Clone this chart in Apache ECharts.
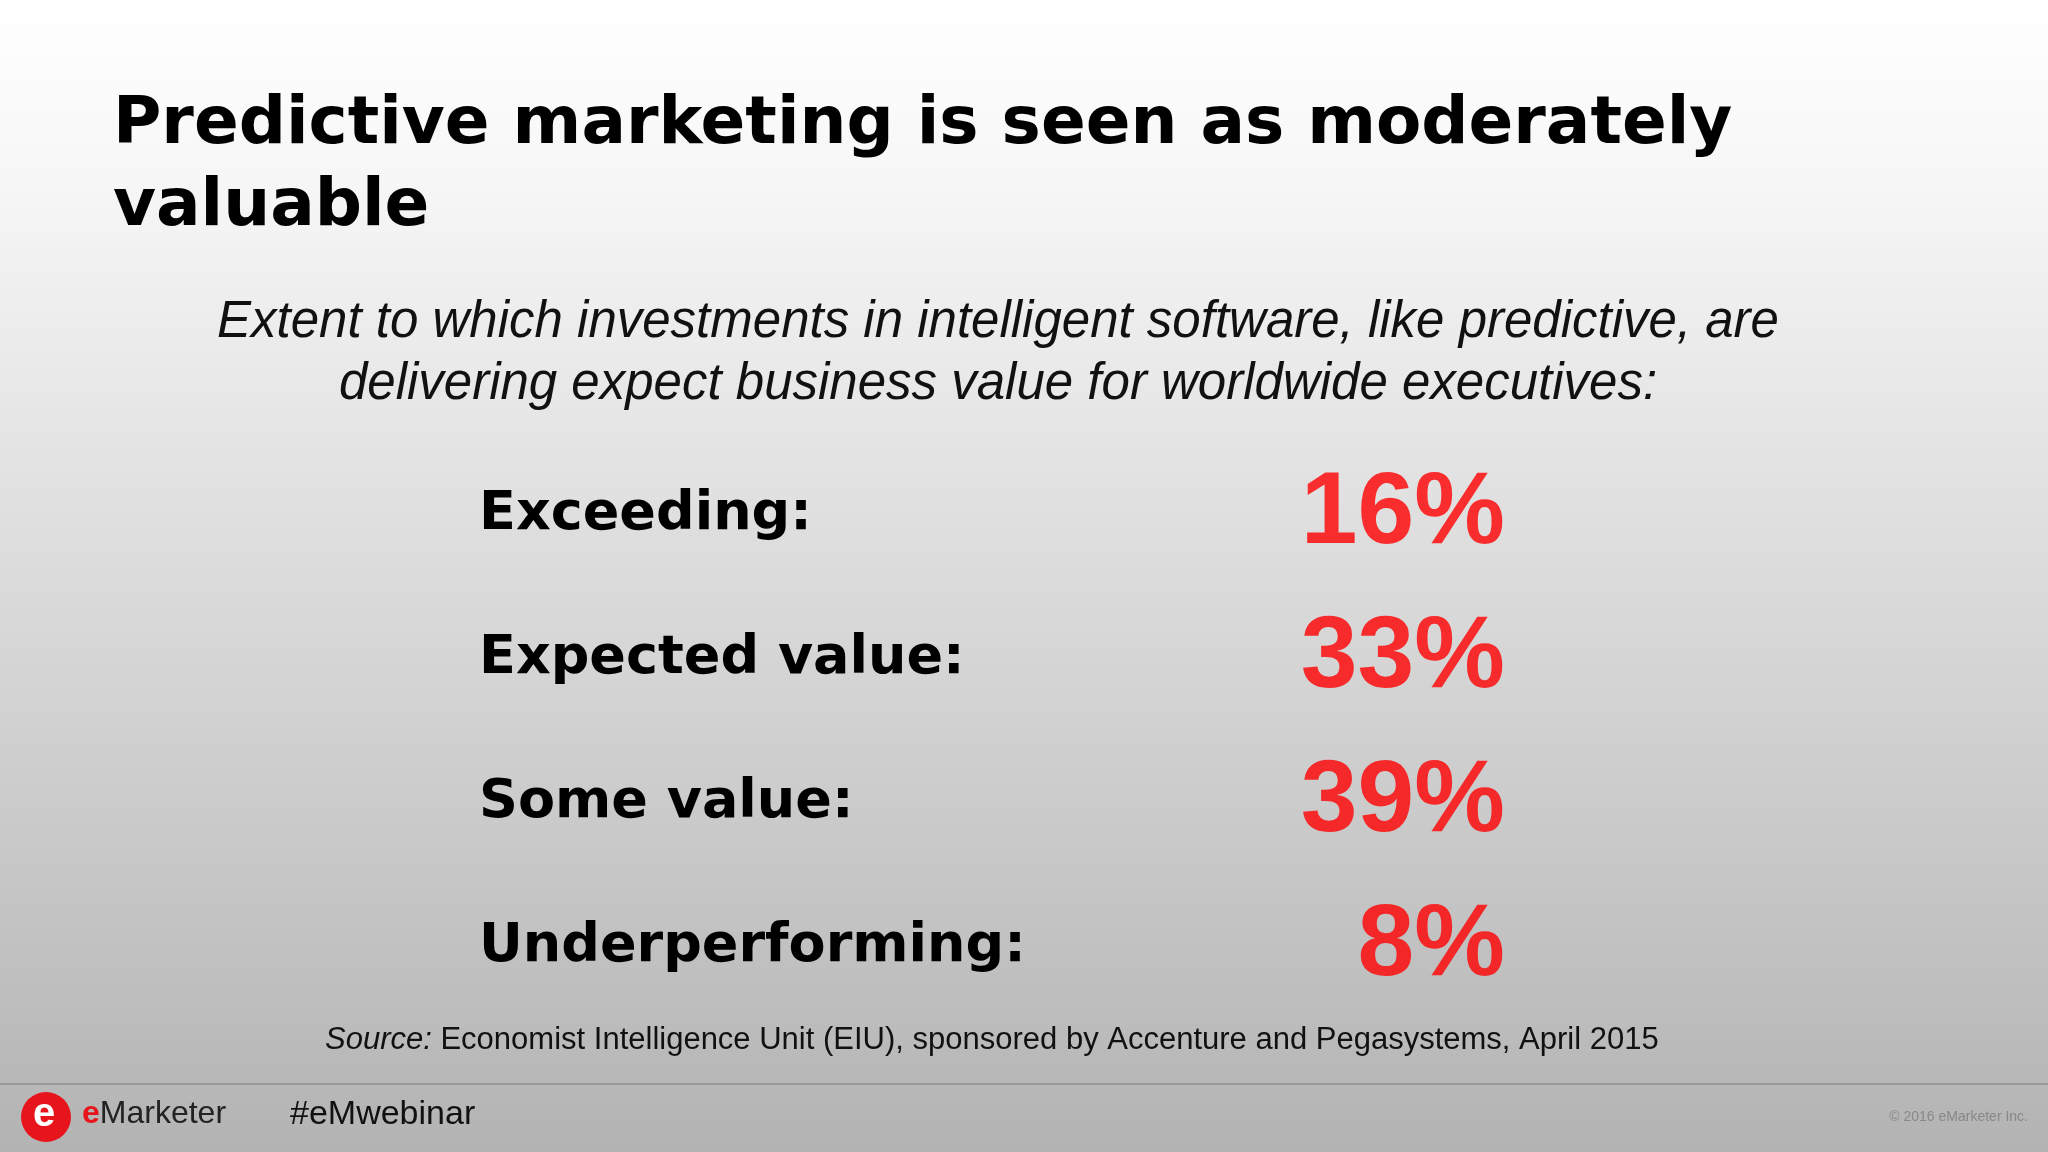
<!DOCTYPE html>
<html>
<head>
	<meta charset="utf-8">
	<title>Predictive marketing</title>
	<script src="https://cdn.jsdelivr.net/npm/echarts@6/dist/echarts.min.js"></script>
	<style type="text/css">
		* { padding: 0; margin: 0; }
		#chart { width: 2048px; height: 1152px; }
	</style>
</head>
<body>
	<div id="chart"></div>
	<script type="text/javascript">
		var categories = ['Exceeding:', 'Expected value:', 'Some value:', 'Underperforming:'];
		var values = [16, 33, 39, 8];

		var chart = echarts.init(document.getElementById('chart'));
		var option = {
			backgroundColor: {
				type: 'linear', x: 0, y: 0, x2: 0, y2: 1,
				colorStops: [
					{offset: 0, color: '#ffffff'},
					{offset: 0.15, color: '#f7f7f7'},
					{offset: 1, color: '#b3b3b3'}
				]
			},
			title: [
				{
					text: 'Predictive marketing is seen as moderately\nvaluable',
					left: 108, top: 80,
					textStyle: {fontFamily: 'DejaVu Sans', fontWeight: 'bold', fontSize: 66, lineHeight: 82, color: '#000'}
				},
				{
					text: 'Extent to which investments in intelligent software, like predictive, are\ndelivering expect business value for worldwide executives:',
					left: 993, top: 287,
					textAlign: 'center',
					textStyle: {fontFamily: 'Liberation Sans', fontStyle: 'italic', fontWeight: 'normal', fontSize: 51, lineHeight: 62, color: '#111', align: 'center'}
				},
				{
					text: '{i|Source:} Economist Intelligence Unit (EIU), sponsored by Accenture and Pegasystems, April 2015',
					left: 320, top: 1020,
					textStyle: {fontFamily: 'Liberation Sans', fontWeight: 'normal', fontSize: 31, color: '#111',
						rich: {i: {fontStyle: 'italic', fontSize: 31, fontFamily: 'Liberation Sans', color: '#111'}}}
				}
			],
			grid: {left: 479, right: 2048 - 1505, top: 443, height: 576},
			xAxis: {type: 'value', min: 0, max: 1, show: false},
			yAxis: {
				type: 'category', data: categories, inverse: true,
				axisLine: {show: false}, axisTick: {show: false}, splitLine: {show: false},
				axisLabel: {inside: true, margin: 0, align: 'left', fontFamily: 'DejaVu Sans', fontWeight: 'bold', fontSize: 54, color: '#000'}
			},
			series: [{
				type: 'scatter', symbolSize: 0,
				data: values.map(function (v, i) { return [1, i]; }),
				label: {
					show: true, position: 'left', distance: 0,
					formatter: function (p) { return values[p.dataIndex] + '%'; },
					fontFamily: 'Liberation Sans', fontWeight: 'bold', fontSize: 102, color: '#ff0000'
				},
				silent: true
			}],
			graphic: [
				{type: 'rect', shape: {x: 0, y: 1083, width: 2048, height: 2}, style: {fill: '#999'}},
				{type: 'circle', shape: {cx: 46, cy: 1117, r: 25}, style: {fill: '#e8141c'}},
				{type: 'text', style: {x: 33, y: 1095, text: 'e', fontSize: 40, fontWeight: 'bold', fontFamily: 'Liberation Sans', fill: '#fff'}},
				{type: 'text', style: {x: 82, y: 1098, text: '{r|e}Marketer', fontSize: 32, fontFamily: 'Liberation Sans', fill: '#222',
					rich: {r: {fill: '#e8141c', fontSize: 32, fontFamily: 'Liberation Sans', fontWeight: 'bold'}}}},
				{type: 'text', style: {x: 290, y: 1098, text: '#eMwebinar', fontSize: 34, fontFamily: 'Liberation Sans', fill: '#111'}},
				{type: 'text', style: {x: 2028, y: 1110, text: '© 2016 eMarketer Inc.', align: 'right', fontSize: 14, fontFamily: 'Liberation Sans', fill: '#888'}}
			]
		};
		chart.setOption(option);
	</script>
</body>
</html>
